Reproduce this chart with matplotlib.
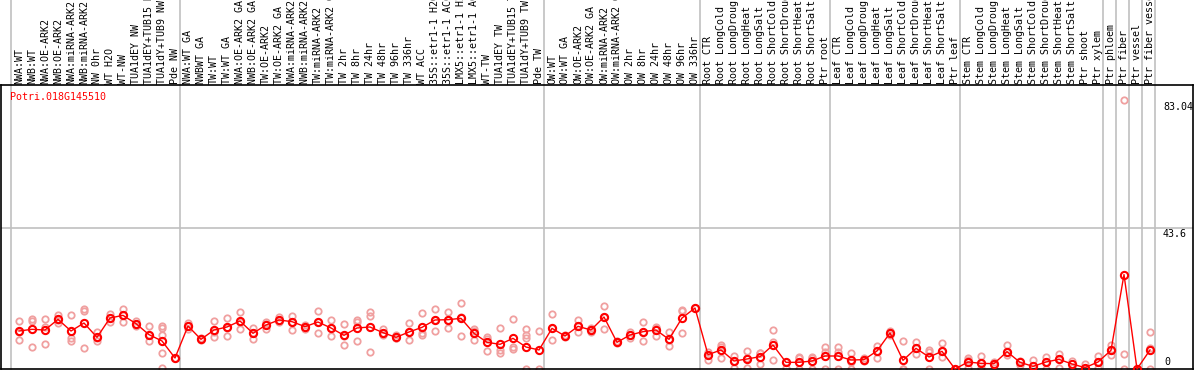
import matplotlib
matplotlib.use('Agg')
import matplotlib.pyplot as plt
import matplotlib.transforms as mtransforms

# sample labels, one per column
labels = [
    'NWA:WT', 'NWB:WT', 'NWA:OE-ARK2', 'NWB:OE-ARK2', 'NWA:miRNA-ARK2', 'NWB:miRNA-ARK2',
    'NW 0hr', 'WT H2O', 'WT-NW', 'TUA1dEY NW', 'TUA1dEY+TUB15 NW', 'TUA1dY+TUB9 NW', 'Pde NW',
    'NWA:WT GA', 'NWBWT GA', 'TW:WT', 'TW:WT GA', 'NWA:OE-ARK2 GA', 'NWB:OE-ARK2 GA',
    'TW:OE-ARK2', 'TW:OE-ARK2 GA', 'NWA:miRNA-ARK2 GA', 'NWB:miRNA-ARK2 GA', 'TW:miRNA-ARK2',
    'TW:miRNA-ARK2 GA', 'TW 2hr', 'TW 8hr', 'TW 24hr', 'TW 48hr', 'TW 96hr', 'TW 336hr',
    'WT ACC', '35S::etr1-1 H2O', '35S::etr1-1 ACC', 'LMX5::etr1-1 H2O', 'LMX5::etr1-1 ACC',
    'WT-TW', 'TUA1dEY TW', 'TUA1dEY+TUB15 TW', 'TUA1dY+TUB9 TW', 'Pde TW',
    'OW:WT', 'OW:WT GA', 'OW:OE-ARK2', 'OW:OE-ARK2 GA', 'OW:miRNA-ARK2', 'OW:miRNA-ARK2 GA',
    'OW 2hr', 'OW 8hr', 'OW 24hr', 'OW 48hr', 'OW 96hr', 'OW 336hr',
    'Root CTR', 'Root LongCold', 'Root LongDrought', 'Root LongHeat', 'Root LongSalt',
    'Root ShortCold', 'Root ShortDrought', 'Root ShortHeat', 'Root ShortSalt', 'Ptr root',
    'Leaf CTR', 'Leaf LongCold', 'Leaf LongDrought', 'Leaf LongHeat', 'Leaf LongSalt',
    'Leaf ShortCold', 'Leaf ShortDrought', 'Leaf ShortHeat', 'Leaf ShortSalt', 'Ptr leaf',
    'Stem CTR', 'Stem LongCold', 'Stem LongDrought', 'Stem LongHeat', 'Stem LongSalt',
    'Stem ShortCold', 'Stem ShortDrought', 'Stem ShortHeat', 'Stem ShortSalt',
    'Ptr shoot', 'Ptr xylem', 'Ptr phloem', 'Ptr fiber', 'Ptr vessel', 'Ptr fiber vessel',
]

# mean expression per sample
means = [
    11.75, 12.27, 12.06, 15.36, 11.75, 14.22, 9.79, 15.77, 16.59, 14.02, 10.62, 8.66, 3.40,
    13.30, 9.17, 12.06, 12.99, 14.84, 11.03, 13.61, 15.15, 14.64, 13.09, 14.53, 12.68,
    10.41, 12.68, 12.99, 11.23, 9.79, 11.44, 12.88, 15.15, 15.25, 15.67, 11.03, 8.25,
    7.63, 9.48, 6.80, 5.88,
    12.57, 10.20, 13.19, 12.06, 16.08, 8.25, 10.51, 11.54, 12.06, 9.17, 15.77, 18.86,
    4.43, 5.88, 2.47, 3.09, 3.81, 7.42, 2.06, 2.06, 2.47, 4.02,
    4.02, 2.78, 2.89, 5.57, 11.13, 2.68, 6.39, 3.71, 5.46, 0.0,
    2.16, 1.75, 1.65, 5.36, 2.06, 0.82, 2.16, 2.99, 1.55,
    0.41, 2.16, 5.77, 29.20, 0.0, 5.88,
]

# individual replicates per sample
reps = [
    [14.84, 11.54, 8.86], [15.56, 14.84, 6.80], [15.46, 13.09, 7.63], [16.80, 15.15, 14.12],
    [16.59, 9.48, 8.66], [18.55, 17.93, 6.49], [11.44, 9.48, 8.66], [17.11, 15.77, 14.64],
    [18.55, 16.59, 14.43], [14.95, 13.81, 13.40], [13.19, 10.51, 8.66],
    [13.40, 12.78, 10.51, 4.84, 0.21], [3.40],
    [14.12, 13.30, 12.47], [9.48, 8.97], [14.95, 11.54, 10.00], [15.77, 12.78, 10.20],
    [17.63, 14.64, 12.27], [12.78, 11.03, 9.17], [14.64, 13.81, 12.37], [16.08, 14.84, 14.43],
    [16.49, 14.64, 12.06], [13.61, 12.78, 12.27], [17.93, 14.64, 11.03], [15.25, 12.57, 10.31],
    [13.81, 10.31, 7.52], [15.25, 14.64, 8.76], [17.73, 16.49, 5.15], [12.47, 11.23, 10.62],
    [10.51, 9.48, 9.48], [14.12, 11.44, 8.86], [17.21, 11.03, 10.51], [18.55, 15.25, 11.75],
    [17.52, 15.25, 12.78], [20.30, 16.18, 10.20], [12.47, 11.85, 8.97], [10.00, 9.28, 5.67],
    [12.57, 5.88, 4.84], [15.36, 6.91, 6.18], [12.37, 10.51, 9.48, 0.0], [11.75, 0.0],
    [16.90, 12.57, 8.97], [10.51, 10.20, 9.89], [15.15, 13.19, 11.54], [12.57, 12.06, 11.54],
    [19.48, 16.08, 12.37], [8.66, 8.25, 7.94], [11.34, 10.51, 9.48], [14.64, 11.54, 8.66],
    [13.09, 12.57, 10.31], [11.54, 8.97, 7.11], [18.24, 17.93, 11.03], [18.86],
    [5.36, 4.43, 2.68], [7.42, 6.91, 3.30], [4.12, 2.47, 0.21], [5.57, 3.30, 0.21],
    [4.84, 4.84, 1.65], [12.06, 8.25, 2.68], [2.06, 0.21], [3.81, 3.30, 0.0],
    [3.81, 3.50, 0.0], [6.91, 5.36, 0.0],
    [6.91, 5.36, 0.0], [4.84, 2.27, 0.0], [3.30, 2.89, 2.47], [7.22, 5.57, 3.30],
    [11.75, 11.13, 10.51], [8.76, 0.0, 0.0], [8.25, 6.39, 4.64], [5.88, 5.15, 0.0],
    [7.94, 5.46, 3.61], [0.0],
    [3.50, 2.78, 0.21], [4.12, 1.75, 0.21], [2.27, 1.24], [7.42, 5.36, 4.33], [2.47, 1.24],
    [2.78, 0.0], [3.81, 2.16, 0.0], [4.64, 2.99, 0.21], [2.47, 0.21],
    [1.44, 0.0], [4.12, 2.16, 0.21], [7.42, 5.77, 4.33], [83.04, 4.53, 0.0], [0.0, 0.0],
    [11.34, 6.60, 0.0],
]

gene = 'Potri.018G145510'
y_ticks = [83.04, 43.6, 0]
separators = [-0.64, 12.41, 40.41, 52.41, 62.41, 72.41, 83.41, 84.41, 85.41, 86.41, 87.41]

W, H = 1194, 370
fig = plt.figure(figsize=(W / 100, H / 100), dpi=100)
# plot frame: x 1..1193 px, y 85..369 px from top
ax = fig.add_axes([1 / W, 1 / H, 1192 / W, 284 / H])
ax.set_xlim((1 - 19) / 13, (1193 - 19) / 13)
ax.set_ylim(0, 284 / 3.234)
ax.set_xticks([])
ax.set_yticks([])
for s in ax.spines.values():
    s.set_color('black')
    s.set_linewidth(1.2)

mono = 'DejaVu Sans Mono'
grid = '#c0c0c0'
ax.axhline(43.6, color=grid, lw=1.2, zorder=1)
top_ext = 1 + 86 / 284
for xs in separators:
    ax.axvline(xs, 0, top_ext, color=grid, lw=1.2, clip_on=False, zorder=1)

x = list(range(len(labels)))
for i, r in enumerate(reps):
    ax.plot([i] * len(r), r, 'o', ms=4.6, mfc='none', mec='#f0a0a0', mew=1.3,
            clip_on=False, zorder=2)
ax.plot(x, means, '-', color='red', lw=1, clip_on=False, zorder=3)
ax.plot(x, means, 'o', ms=5.2, mfc='none', mec='red', mew=1.5, clip_on=False, zorder=4)

# column labels above the frame
trans = mtransforms.offset_copy(ax.get_xaxis_transform(), fig=fig, x=0, y=1.5, units='dots')
for i, lab in enumerate(labels):
    ax.text(i, 1, lab, rotation=90, rotation_mode='anchor', ha='left', va='center',
            transform=trans, family=mono, fontsize=7.2, color='black', clip_on=False)

ax.text((10 - 19) / 13, (369 - 97) / 3.234, gene, family=mono, fontsize=7.2,
        color='red', ha='left', va='center')

tx = (1163 - 19) / 13
ax.text(tx, y_ticks[0] - 0.6, '83.04', family=mono, fontsize=7.2, va='top', ha='left')
ax.text(tx, y_ticks[1] - 0.4, '43.6', family=mono, fontsize=7.2, va='top', ha='left')
ax.text(tx + 0.08, y_ticks[2] + 2.2, '0', family=mono, fontsize=7.2, va='center', ha='left')

fig.savefig('out.png', dpi=100)
